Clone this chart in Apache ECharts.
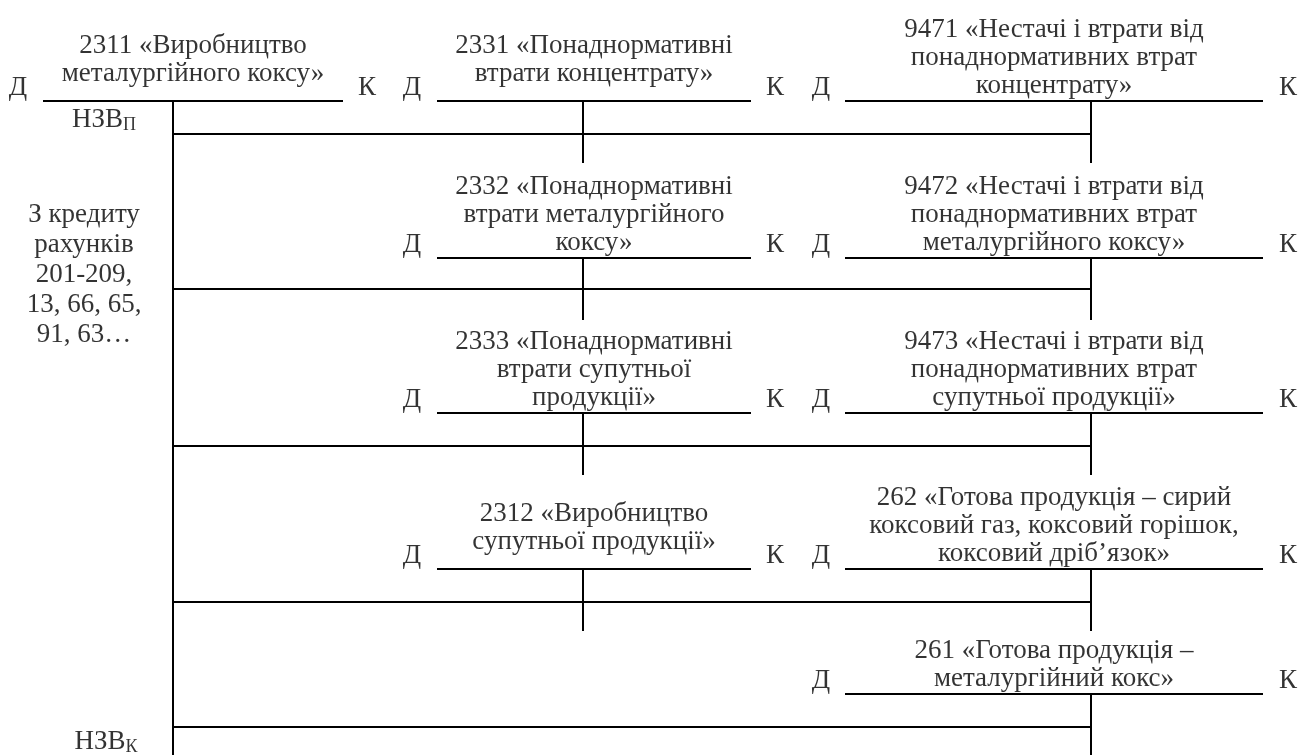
<!DOCTYPE html>
<html>
<head>
<meta charset="utf-8">
<script src="https://cdn.jsdelivr.net/npm/echarts@6/dist/echarts.min.js"></script>
<style>
  html, body { margin: 0; padding: 0; background: #ffffff; }
  #chart { width: 1299px; height: 755px; }
</style>
</head>
<body>
<div id="chart"></div>
<script>
// ---------- content ----------
const mainAccount = '2311 «Виробництво\nметалургійного коксу»';
const lossAccounts = [
  '2331 «Понаднормативні\nвтрати концентрату»',
  '2332 «Понаднормативні\nвтрати металургійного\nкоксу»',
  '2333 «Понаднормативні\nвтрати супутньої\nпродукції»',
  '2312 «Виробництво\nсупутньої продукції»'
];
const resultAccounts = [
  '9471 «Нестачі і втрати від\nпонаднормативних втрат\nконцентрату»',
  '9472 «Нестачі і втрати від\nпонаднормативних втрат\nметалургійного коксу»',
  '9473 «Нестачі і втрати від\nпонаднормативних втрат\nсупутньої продукції»',
  '262 «Готова продукція – сирий\nкоксовий газ, коксовий горішок,\nкоксовий дріб’язок»',
  '261 «Готова продукція –\nметалургійний кокс»'
];
const sideLabels = ['Д', 'К'];
const openingBalance = ['НЗВ', 'П'];
const closingBalance = ['НЗВ', 'К'];
const creditSources = 'З кредиту\nрахунків\n201-209,\n13, 66, 65,\n91, 63…';

// ---------- layout (diagram geometry in pixel-like axis units) ----------
const W = 1299, H = 755;
const colGeom = [
  { left: 43,  right: 343,  stem: 173,  d: 18,  k: 367 },
  { left: 437, right: 751,  stem: 583,  d: 412, k: 775 },
  { left: 845, right: 1263, stem: 1091, d: 821, k: 1288 }
];
const rowLineY = [101, 258, 413, 569, 694];
const connectorY = [134, 289, 446, 602, 727];
const stemLen = 62;
const lossTitleMode = ['above', 'on', 'on', 'above'];
const resultTitleMode = ['on', 'on', 'on', 'on', 'on'];
const FONT = '"Liberation Serif", "Times New Roman", serif';
const FS = 27;
const LH = 28;

// ---------- build marks ----------
const segments = [];
const texts = [];
function seg(x1, y1, x2, y2) { segments.push({ coords: [[x1, y1], [x2, y2]] }); }
function txt(x, y, text, align, vAlign, extra) {
  texts.push({ value: [x, y], label: Object.assign({ formatter: text, align: align, verticalAlign: vAlign }, extra || {}) });
}
function account(col, lineY, title, mode, stemEnd) {
  const g = colGeom[col];
  seg(g.left, lineY, g.right, lineY);
  seg(g.stem, lineY, g.stem, stemEnd);
  const cx = (g.left + g.right) / 2;
  const ty = mode === 'above' ? lineY - 13 : lineY - 1;
  txt(cx, ty, title, 'center', 'bottom');
  txt(g.d, lineY - 13, sideLabels[0], 'center', 'middle');
  txt(g.k, lineY - 13, sideLabels[1], 'center', 'middle');
}

account(0, rowLineY[0], mainAccount, 'above', H);
lossAccounts.forEach((t, i) => account(1, rowLineY[i], t, lossTitleMode[i], rowLineY[i] + stemLen));
resultAccounts.forEach((t, i) => account(2, rowLineY[i], t, resultTitleMode[i], Math.min(H, rowLineY[i] + stemLen)));
connectorY.forEach(y => seg(colGeom[0].stem, y, colGeom[2].stem, y));

const rich = {
  n: { fontFamily: FONT, fontSize: FS, color: '#000' },
  s: { fontFamily: FONT, fontSize: 18, color: '#000', padding: [10, 0, 0, 0] }
};
txt(104, 120, '{n|' + openingBalance[0] + '}{s|' + openingBalance[1] + '}', 'center', 'middle', { rich: rich });
txt(106, 742, '{n|' + closingBalance[0] + '}{s|' + closingBalance[1] + '}', 'center', 'middle', { rich: rich });
txt(84, 275, creditSources, 'center', 'middle', { lineHeight: 30 });

// ---------- chart ----------
const chart = echarts.init(document.getElementById('chart'), null, { renderer: 'canvas' });
chart.setOption({
  animation: false,
  backgroundColor: '#ffffff',
  grid: { left: 0, right: 0, top: 0, bottom: 0 },
  xAxis: { type: 'value', min: 0, max: W, show: false },
  yAxis: { type: 'value', min: 0, max: H, inverse: true, show: false },
  series: [
    {
      type: 'lines',
      coordinateSystem: 'cartesian2d',
      polyline: false,
      silent: true,
      lineStyle: { color: '#000', width: 2, opacity: 1 },
      data: segments,
      z: 1
    },
    {
      type: 'scatter',
      symbolSize: 0,
      silent: true,
      itemStyle: { color: 'rgba(0,0,0,0)' },
      label: {
        show: true,
        position: 'inside',
        color: '#000',
        fontFamily: FONT,
        fontSize: FS,
        lineHeight: LH
      },
      data: texts,
      z: 2
    }
  ]
});
</script>
</body>
</html>
